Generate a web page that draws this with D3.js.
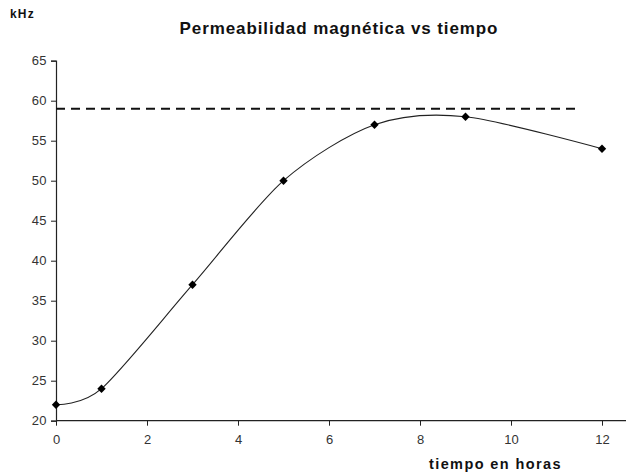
<!DOCTYPE html>
<html>
<head>
<meta charset="utf-8">
<script src="https://cdn.jsdelivr.net/npm/d3@7"></script>
<style>
  html, body { margin: 0; padding: 0; background: #fff; }
  svg { display: block; font-family: "Liberation Sans", Arial, sans-serif; }
</style>
</head>
<body>
<svg id="chart" width="626" height="474"></svg>
<script>
// Measured permeability (kHz) over time (hours)
const hours = [0, 1, 3, 5, 7, 9, 12];
const khz = [22, 24, 37, 50, 57, 58, 54];
// Reference level drawn as a dashed horizontal line
const refLevel = 59;
const refSpan = [0, 11.45];
const xTicks = [0, 2, 4, 6, 8, 10, 12];
const yTicks = [20, 25, 30, 35, 40, 45, 50, 55, 60, 65];

const svg = d3.select("#chart");
const plotLeft = 56, plotTop = 60.7, plotBottom = 420.7;

const x = d3.scaleLinear().domain([0, 12]).range([plotLeft, 602]);
const y = d3.scaleLinear().domain([20, 65]).range([plotBottom, plotTop]);

// Y axis
const yAxis = d3.axisLeft(y).tickValues(yTicks).tickSize(5).tickPadding(4);
const gy = svg.append("g").attr("transform", `translate(${plotLeft},0)`).call(yAxis);
gy.select(".domain").attr("stroke", "#222").attr("stroke-width", 1.2);
gy.selectAll(".tick line").attr("stroke", "#222");
gy.selectAll(".tick text").attr("fill", "#333").attr("font-size", 13).attr("letter-spacing", 0.4);

// X axis (line runs on to the right edge)
const xAxis = d3.axisBottom(x).tickValues(xTicks).tickSize(5).tickPadding(9).tickSizeOuter(0);
const gx = svg.append("g").attr("transform", `translate(0,${plotBottom})`).call(xAxis);
gx.select(".domain").remove();
gx.append("line").attr("x1", plotLeft).attr("x2", 626).attr("y1", 0).attr("y2", 0)
  .attr("stroke", "#222").attr("stroke-width", 1.2);
gx.selectAll(".tick line").attr("stroke", "#222");
gx.selectAll(".tick text").attr("fill", "#333").attr("font-size", 13);

// Dashed reference line
svg.append("line")
  .attr("x1", x(refSpan[0])).attr("x2", x(refSpan[1]))
  .attr("y1", y(refLevel)).attr("y2", y(refLevel))
  .attr("stroke", "#111").attr("stroke-width", 2)
  .attr("stroke-dasharray", "9,6");

// Smoothed data line
const pts = hours.map((h, i) => [h, khz[i]]);
const line = d3.line().x(d => x(d[0])).y(d => y(d[1])).curve(d3.curveCardinal.tension(0.15));
svg.append("path").datum(pts).attr("d", line)
  .attr("fill", "none").attr("stroke", "#222").attr("stroke-width", 1.1);

// Diamond markers
svg.selectAll("path.marker").data(pts).enter().append("path")
  .attr("class", "marker")
  .attr("d", "M0,-4.2L4.2,0L0,4.2L-4.2,0Z")
  .attr("transform", d => `translate(${x(d[0])},${y(d[1])})`)
  .attr("fill", "#000");

// Titles
svg.append("text").attr("x", 339).attr("y", 34).attr("text-anchor", "middle")
  .attr("font-size", 17).attr("font-weight", "bold").attr("fill", "#111")
  .attr("letter-spacing", 0.9)
  .text("Permeabilidad magnética vs tiempo");
svg.append("text").attr("x", 10).attr("y", 18)
  .attr("font-size", 12).attr("font-weight", "bold").attr("fill", "#111")
  .attr("letter-spacing", 1.2)
  .text("kHz");
svg.append("text").attr("x", 562).attr("y", 469).attr("text-anchor", "end")
  .attr("font-size", 14.5).attr("font-weight", "bold").attr("fill", "#111")
  .attr("letter-spacing", 1.4)
  .text("tiempo en horas");
</script>
</body>
</html>
